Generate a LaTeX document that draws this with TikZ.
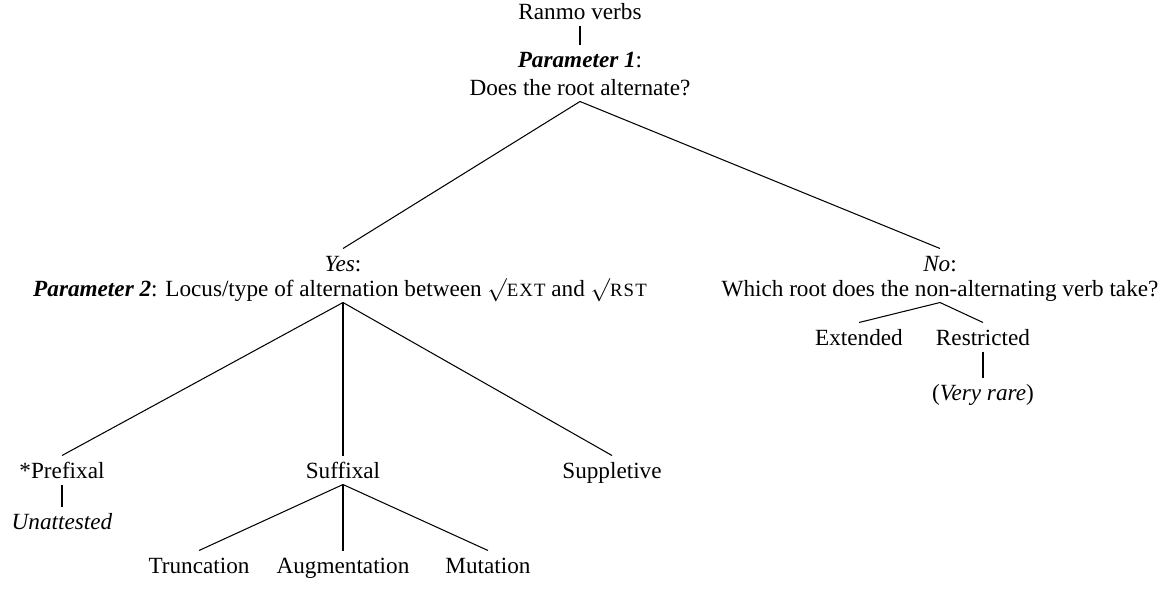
\documentclass[tikz,border=0pt]{standalone}
\usepackage{fontspec}
\setmainfont{Liberation Serif}
\newcommand{\smcaps}[1]{{\fontsize{8.1}{9}\selectfont\addfontfeatures{LetterSpace=6}#1}}
\newcommand{\param}[1]{\textbf{\textit{#1}}}
\newcommand{\rt}[1]{$\surd$\smcaps{#1}}
\tikzset{
    lbl/.style={anchor=base, inner sep=0pt, font=\fontsize{10}{12}\selectfont, execute at begin node=\rule[-2.6pt]{0pt}{12.1pt}},
    br/.style={line width=0.45pt}
}
\begin{document}
\begin{tikzpicture}[x=0.431pt, y=-0.431pt]
    \useasboundingbox (0,0) rectangle (1161,594);
    \node[lbl] (root) at (580,19) {Ranmo verbs};
    \node[lbl] (p1) at (580,67) {\param{Parameter 1}:};
    \node[lbl] (q1) at (580,95) {Does the root alternate?};
    \node[lbl] (yes) at (343,271) {\textit{Yes}:};
    \node[lbl] (p2) at (340,296) {\param{Parameter 2}: Locus/type of alternation between \rt{EXT} and \rt{RST}};
    \node[lbl] (no) at (940,271) {\textit{No}:};
    \node[lbl] (q2) at (940,296) {Which root does the non-alternating verb take?};
    \node[lbl] (ext) at (859,345) {Extended};
    \node[lbl] (rst) at (983,345) {Restricted};
    \node[lbl] (rare) at (983,400) {(\textit{Very rare})};
    \node[lbl] (pre) at (62,478) {*Prefixal};
    \node[lbl] (suf) at (343,478) {Suffixal};
    \node[lbl] (sup) at (612,478) {Suppletive};
    \node[lbl] (una) at (62,529) {\textit{Unattested}};
    \node[lbl] (tru) at (199,573) {Truncation};
    \node[lbl] (aug) at (343,573) {Augmentation};
    \node[lbl] (mut) at (488,573) {Mutation};
    \draw[br] (root.south) -- (p1.north);
    \draw[br] (q1.south) -- (yes.north);
    \draw[br] (q1.south) -- (no.north);
    \draw[br] (q2.south) -- (ext.north);
    \draw[br] (q2.south) -- (rst.north);
    \draw[br] (rst.south) -- (rare.north);
    \draw[br] (p2.south -| suf) -- (pre.north);
    \draw[br] (p2.south -| suf) -- (suf.north);
    \draw[br] (p2.south -| suf) -- (sup.north);
    \draw[br] (pre.south) -- (una.north);
    \draw[br] (suf.south) -- (tru.north);
    \draw[br] (suf.south) -- (aug.north);
    \draw[br] (suf.south) -- (mut.north);
\end{tikzpicture}
\end{document}
